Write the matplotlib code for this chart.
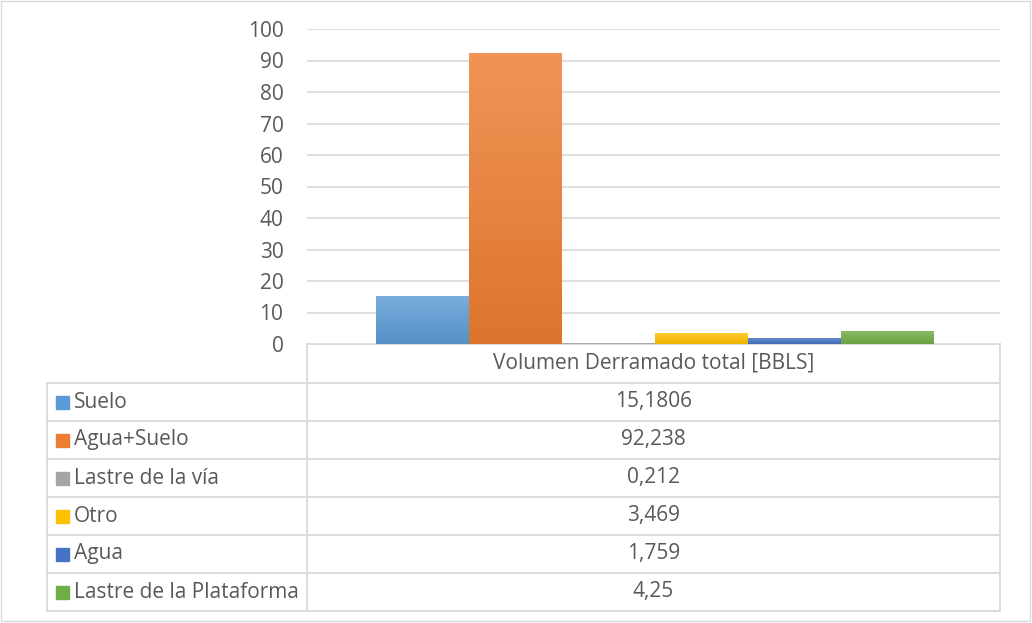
import matplotlib
matplotlib.use("Agg")
import matplotlib.pyplot as plt
import numpy as np

categories = ["Volumen Derramado total [BBLS]"]
series = ["Suelo", "Agua+Suelo", "Lastre de la vía", "Otro", "Agua", "Lastre de la Plataforma"]
values = [15.1806, 92.238, 0.212, 3.469, 1.759, 4.25]
colors = ["#5B9BD5", "#ED7D31", "#A5A5A5", "#FFC000", "#4472C4", "#70AD47"]
yticks = [0, 10, 20, 30, 40, 50, 60, 70, 80, 90, 100]

TXT = "#595959"; GRID = "#D9D9D9"; FS = 15
plt.rcParams["font.family"] = ["Open Sans", "DejaVu Sans"]

W, H = 1032, 623
fig = plt.figure(figsize=(W / 100, H / 100), dpi=100)

# plot area in pixel coords
x0, x1, ytop, ybot = 307, 1000, 29, 344
ax = fig.add_axes([x0 / W, (H - ybot) / H, (x1 - x0) / W, (ybot - ytop) / H])
ax.set_xlim(0, 1); ax.set_ylim(0, 100)
ax.set_yticks(yticks)
ax.tick_params(axis="y", length=0, pad=17, labelsize=FS, labelcolor=TXT)
ax.set_xticks([])
ax.grid(axis="y", color=GRID, lw=1.2)
ax.set_axisbelow(True)
for s in ax.spines.values():
    s.set_visible(False)

# bars: group occupies 376..934 px of the plot area
n = len(values)
bw = (934 - 376) / (x1 - x0) / n
start = (376 - x0) / (x1 - x0)
for i, (v, c) in enumerate(zip(values, colors)):
    left = start + i * bw
    bar = ax.bar(left, v, width=bw, align="edge", color=c, zorder=2)[0]
    # soft vertical gradient like the Excel fill
    rgb = np.array(matplotlib.colors.to_rgb(c))
    top = np.clip(rgb + (1 - rgb) * 0.18, 0, 1)
    bot = rgb * 0.93
    grad = np.linspace(0, 1, 64)[:, None, None]
    img = bot + (top - bot) * grad
    im = ax.imshow(img, extent=(left, left + bw, 0, max(v, 1e-6)), origin="lower",
                   aspect="auto", zorder=2.1)
    im.set_clip_path(bar)
ax.set_xlim(0, 1); ax.set_ylim(0, 100)

# data table drawn in figure pixel coords
tab = fig.add_axes([0, 0, 1, 1], zorder=-1)
tab.set_xlim(0, W); tab.set_ylim(H, 0); tab.axis("off")
tl = 47
row_h = 38
rows_top = 383
lc = dict(color=GRID, lw=1.3)
tab.plot([x0, x0], [ybot, rows_top + row_h * n], **lc)
tab.plot([x1, x1], [ybot, rows_top + row_h * n], **lc)
tab.plot([tl, tl], [rows_top, rows_top + row_h * n], **lc)
tab.plot([x0, x1], [ybot, ybot], **lc)
for k in range(n + 1):
    y = rows_top + k * row_h
    tab.plot([tl, x1], [y, y], **lc)
tab.text((x0 + x1) / 2, (ybot + rows_top) / 2, categories[0], ha="center", va="center",
         fontsize=FS, color=TXT)
for k, (name, v, c) in enumerate(zip(series, values, colors)):
    yc = rows_top + (k + 0.5) * row_h
    tab.add_patch(plt.Rectangle((tl + 9, yc - 6.5), 13, 13, color=c))
    tab.text(tl + 27, yc, name, ha="left", va="center", fontsize=FS, color=TXT)
    tab.text((x0 + x1) / 2, yc, f"{v:g}".replace(".", ","), ha="center", va="center",
             fontsize=FS, color=TXT)

# outer chart border
tab.add_patch(plt.Rectangle((1, 1), W - 3, H - 3, fill=False, ec=GRID, lw=1))

fig.savefig("out.png", dpi=100)
